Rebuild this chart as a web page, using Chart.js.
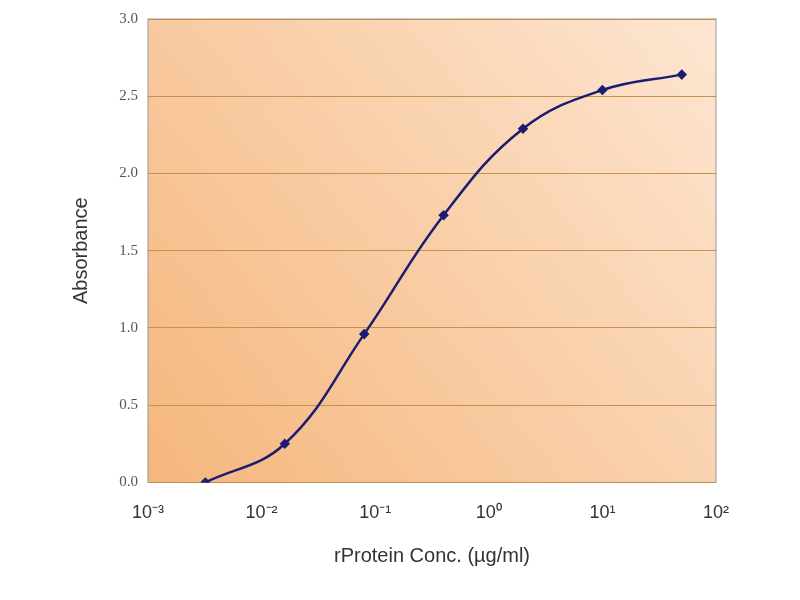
<!DOCTYPE html>
<html><head><meta charset="utf-8">
<script src="https://cdn.jsdelivr.net/npm/chart.js@4"></script>
<style>body{margin:0;background:#fff}#wrap{width:800px;height:600px}</style>
</head><body><div id="wrap"><canvas id="c" width="800" height="600"></canvas></div>
<script>
// concentrations (µg/ml), 5-fold dilution
var conc = [0.0032, 0.016, 0.08, 0.4, 2, 10, 50];
var absorbance = [0.0, 0.25, 0.96, 1.73, 2.29, 2.54, 2.64];
var xTicks = [0.001, 0.01, 0.1, 1, 10, 100];
var xTickLabels = ['10\u207B\u00B3', '10\u207B\u00B2', '10\u207B\u00B9', '10\u2070', '10\u00B9', '10\u00B2'];

var bgPlugin = {
    id: 'bg',
    beforeDraw: function (chart) {
        var a = chart.chartArea, ctx = chart.ctx;
        var g = ctx.createLinearGradient(a.left, a.bottom, a.right, a.top);
        g.addColorStop(0, '#f5b67c');
        g.addColorStop(1, '#fde6d2');
        ctx.save();
        ctx.fillStyle = g;
        ctx.fillRect(a.left, a.top, a.right - a.left, a.bottom - a.top);
        ctx.strokeStyle = '#999';
        ctx.lineWidth = 1;
        ctx.strokeRect(a.left, a.top, a.right - a.left, a.bottom - a.top);
        ctx.restore();
    }
};

new Chart(document.getElementById('c').getContext('2d'), {
    type: 'line',
    data: {
        datasets: [{
            data: conc.map(function (x, i) { return { x: x, y: absorbance[i] }; }),
            borderColor: '#1c1c70',
            backgroundColor: '#1c1c70',
            borderWidth: 2.5,
            tension: 0.4,
            pointStyle: 'rectRot',
            pointRadius: 3.5
        }]
    },
    plugins: [bgPlugin],
    options: {
        responsive: false,
        animation: false,
        layout: { padding: { top: 8, right: 84, left: 65, bottom: 28 } },
        plugins: { legend: { display: false }, tooltip: { enabled: false } },
        scales: {
            x: {
                type: 'logarithmic', min: 0.001, max: 100,
                afterBuildTicks: function (s) { s.ticks = xTicks.map(function (v) { return { value: v }; }); },
                ticks: {
                    autoSkip: false, maxRotation: 0, color: '#333', padding: 12,
                    font: { family: 'Arial, Liberation Sans', size: 18 },
                    callback: function (v) { return xTickLabels[xTicks.indexOf(v)]; }
                },
                grid: { display: false },
                border: { display: false },
                title: { display: true, text: 'rProtein Conc. (\u00B5g/ml)', color: '#333', font: { family: 'Arial, Liberation Sans', size: 20 }, padding: { top: 8 } }
            },
            y: {
                min: 0, max: 3,
                afterFit: function (s) { s.width = 83; },
                ticks: { stepSize: 0.5, color: '#555', padding: 10, font: { family: 'Liberation Serif', size: 15 }, callback: function (v) { return v.toFixed(1); } },
                grid: { color: '#c8904f', lineWidth: 1, drawTicks: false },
                border: { display: false },
                title: { display: true, text: 'Absorbance', color: '#333', font: { family: 'Arial, Liberation Sans', size: 20 } }
            }
        }
    }
});
</script></body></html>
